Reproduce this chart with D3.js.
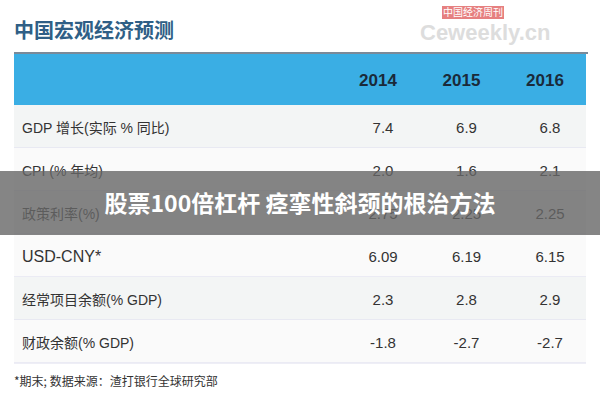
<!DOCTYPE html><html><head><meta charset="utf-8"><script src="https://cdn.jsdelivr.net/npm/d3@7"></script>
<style>body{margin:0;background:#fff}</style></head><body><svg id="c" width="600" height="400"></svg>
<script>
const years=["2014","2015","2016"];
const rowLabels=["GDP 增长(实际 % 同比)","CPI (% 年均)","政策利率(%)","USD-CNY*","经常项目余额(% GDP)","财政余额(% GDP)"];
const v2014=["7.4","2.0","2.75","6.09","2.3","-1.8"];
const v2015=["6.9","1.6","2.25","6.19","2.8","-2.7"];
const v2016=["6.8","2.1","2.25","6.15","2.9","-2.7"];
const svg=d3.select("#c");
const f="'Liberation Sans','Noto Sans CJK SC',sans-serif";
svg.append("text").attr("x",14).attr("y",38).text("中国宏观经济预测").attr("font-family","'Noto Sans CJK SC'").attr("font-weight","bold").attr("font-size",20).attr("fill","#2f5f86");
svg.append("text").attr("x",420).attr("y",40).text("Ceweekly.cn").attr("font-family",f).attr("font-size",22).attr("font-weight","bold").attr("fill","#ddd");
svg.append("rect").attr("x",442).attr("y",6).attr("width",62).attr("height",13).attr("fill","#e06060").attr("opacity",0.8);
svg.append("text").attr("x",473).attr("y",16).attr("text-anchor","middle").text("中国经济周刊").attr("font-family","'Noto Sans CJK SC'").attr("font-size",10).attr("fill","#fff");
svg.append("rect").attr("x",14).attr("y",53).attr("width",572).attr("height",52).attr("fill","#3aaee4");
svg.append("line").attr("x1",14).attr("x2",588).attr("y1",53).attr("y2",53).attr("stroke","#7a8a99").attr("stroke-width",2);
const x=d3.scalePoint().domain(years).range([378,545]);
const y=d3.scaleBand().domain(rowLabels).range([105,363]);
years.forEach(yr=>svg.append("text").attr("x",x(yr)).attr("y",86).attr("text-anchor","middle").text(yr).attr("font-family",f).attr("font-weight","bold").attr("font-size",17).attr("fill","#1a2a3a"));
const cols=[v2014,v2015,v2016];
rowLabels.forEach((r,i)=>{
 svg.append("rect").attr("x",14).attr("y",y(r)).attr("width",572).attr("height",y.bandwidth()).attr("fill",i%2?"#fafafa":"#f3f5f5");
 svg.append("line").attr("x1",14).attr("x2",586).attr("y1",y(r)+y.bandwidth()).attr("y2",y(r)+y.bandwidth()).attr("stroke","#dde");
 const cy=y(r)+y.bandwidth()/2+6;
 svg.append("text").attr("x",22).attr("y",cy).text(r).attr("font-family",f).attr("font-size",i==3?16:14).attr("fill","#333");
 cols.forEach((c,j)=>svg.append("text").attr("x",x(years[j])+5).attr("y",cy).attr("text-anchor","middle").text(c[i]).attr("font-family",f).attr("font-size",15).attr("fill","#333"));
});
svg.append("text").attr("x",14).attr("y",386).text("*期末;    数据来源：渣打银行全球研究部").attr("font-family","'Noto Sans CJK SC'").attr("font-size",12).attr("fill","#333");
svg.append("rect").attr("x",0).attr("y",171).attr("width",600).attr("height",64).attr("fill","#666").attr("opacity",0.8);
svg.append("text").attr("x",300).attr("y",212).attr("text-anchor","middle").text("股票100倍杠杆 痉挛性斜颈的根治方法").attr("font-family","'Noto Sans CJK SC'").attr("font-weight","bold").attr("font-size",23).attr("fill","#fff");
</script></body></html>
